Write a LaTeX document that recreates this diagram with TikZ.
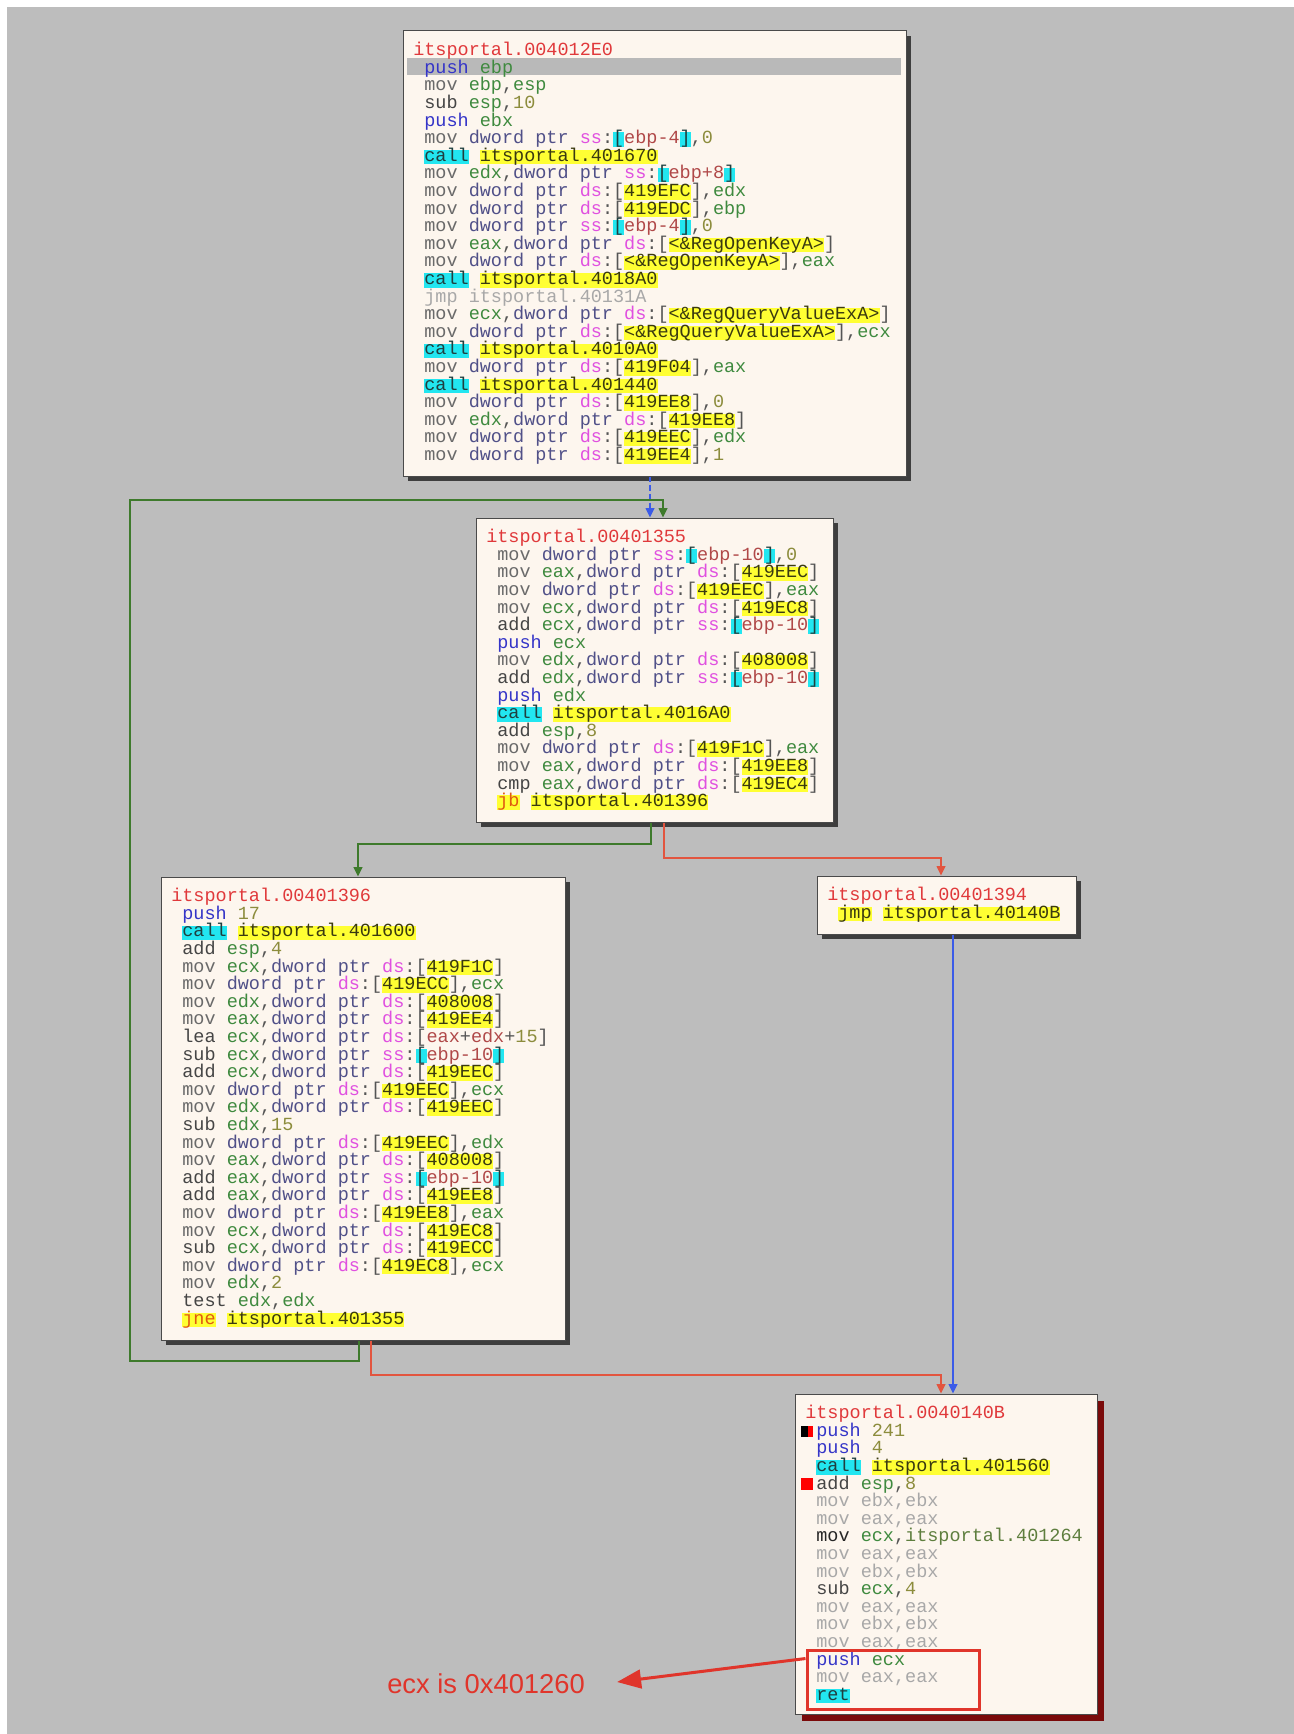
\documentclass[tikz,border=0pt]{standalone}
\usepackage{fontspec}
\usetikzlibrary{arrows.meta,fit,calc,shadows}
\newfontfamily\asmfont{Liberation Mono}
\newfontfamily\lblfont{Liberation Sans}
\setlength\fboxsep{0pt}
\definecolor{bg}{HTML}{BDBDBD}
\definecolor{boxfill}{HTML}{FDF6EE}
\definecolor{boxline}{HTML}{4A4A4A}
\definecolor{shad}{HTML}{3E3E3E}
\definecolor{shadred}{HTML}{7A0A0A}
\definecolor{ctitle}{HTML}{E0393B}
\definecolor{cmov}{HTML}{6A6A6A}
\definecolor{cmk}{HTML}{454545}
\definecolor{cpush}{HTML}{3535C8}
\definecolor{creg}{HTML}{3F8A3F}
\definecolor{cptr}{HTML}{505088}
\definecolor{cseg}{HTML}{E050E0}
\definecolor{cbk}{HTML}{555555}
\definecolor{cnum}{HTML}{8C8C3C}
\definecolor{cmem}{HTML}{B04848}
\definecolor{hy}{HTML}{FFFF33}
\definecolor{hc}{HTML}{22E6F0}
\definecolor{cyt}{HTML}{3A3A10}
\definecolor{cct}{HTML}{1F3F3F}
\definecolor{cjmp}{HTML}{E05A10}
\definecolor{clight}{HTML}{A8A8A8}
\definecolor{cimm}{HTML}{5E7E3E}
\definecolor{cgreen}{HTML}{3E7A2C}
\definecolor{cred}{HTML}{E2553F}
\definecolor{cblue}{HTML}{3B5BE8}
\definecolor{annred}{HTML}{E0352B}
\definecolor{selbar}{HTML}{B9B9B9}
\newcommand\HS{\rule[-2.2pt]{0pt}{10.8pt}}
\newcommand\Ti[1]{\textcolor{ctitle}{#1}}
\newcommand\Mv[1]{\textcolor{cmov}{#1}}
\newcommand\Mk[1]{\textcolor{cmk}{#1}}
\newcommand\Pu[1]{\textcolor{cpush}{#1}}
\newcommand\Rg[1]{\textcolor{creg}{#1}}
\newcommand\Nm[1]{\textcolor{cnum}{#1}}
\newcommand\Lt[1]{\textcolor{clight}{#1}}
\newcommand\Dp{\textcolor{cptr}{dword ptr}}
\newcommand\Yh[1]{\colorbox{hy}{\HS\smash{\textcolor{cyt}{#1}}}}
\newcommand\Cy[1]{\colorbox{hc}{\HS\smash{\textcolor{cct}{#1}}}}
\newcommand\Jy[1]{\colorbox{hy}{\HS\smash{\textcolor{cjmp}{#1}}}}
\newcommand\Cl[1]{\Cy{call} \Yh{#1}}
\newcommand\SSm[1]{\textcolor{cseg}{ss}:\Cy{[}\textcolor{cmem}{#1}\Cy{]}}
\newcommand\DSy[1]{\textcolor{cseg}{ds}:[\Yh{#1}]}
\newcommand\I{\phantom{x}}
\newcommand\FS{\rule{0pt}{12pt}}
\newcommand\codefont{\asmfont\fontsize{13.875pt}{13.2pt}\selectfont\lineskiplimit-100pt\relax}
\tikzset{
  blk/.style={draw=boxline, fill=boxfill, line width=0.75pt, inner sep=0pt,
    drop shadow={shadow xshift=3.75pt, shadow yshift=-3.75pt, fill=shad, opacity=1}},
  blkred/.style={draw=boxline, fill=boxfill, line width=0.75pt, inner sep=0pt,
    drop shadow={shadow xshift=5.5pt, shadow yshift=-5.5pt, fill=shadred, opacity=1}},
  code/.style={inner sep=0pt, anchor=north west, align=left, text=cbk, font=\codefont},
  conn/.style={line width=1.1pt, -{Triangle[length=7pt,width=6.5pt]}},
}
\begin{document}
\begin{tikzpicture}[x=0.75pt,y=-0.75pt]
\useasboundingbox (0,0) rectangle (1294,1734);
\fill[white] (0,0) rectangle (1294,1734);
\fill[bg] (7,7) rectangle (1294,1734);

% blocks
\node[blk, fit={(403,31) (906,476)}] (b1) {};
\node[blk, fit={(476,518) (833,822)}] (b2) {};
\node[blk, fit={(161,877) (565,1340)}] (b3) {};
\node[blk, fit={(817,876) (1076,934)}] (b4) {};
\node[blkred, fit={(795,1394) (1097,1714)}] (b5) {};

% selection bar
\fill[selbar] (407,58.5) rectangle (901,75.5);

\node[code] (t1) at (413,39.5) {\FS\Ti{itsportal.004012E0}\\
\I\Pu{push} \Rg{ebp}\\
\I\Mv{mov} \Rg{ebp},\Rg{esp}\\
\I\Mk{sub} \Rg{esp},\Nm{10}\\
\I\Pu{push} \Rg{ebx}\\
\I\Mv{mov} \Dp{} \SSm{ebp-4},\Nm{0}\\
\I\Cl{itsportal.401670}\\
\I\Mv{mov} \Rg{edx},\Dp{} \SSm{ebp+8}\\
\I\Mv{mov} \Dp{} \DSy{419EFC},\Rg{edx}\\
\I\Mv{mov} \Dp{} \DSy{419EDC},\Rg{ebp}\\
\I\Mv{mov} \Dp{} \SSm{ebp-4},\Nm{0}\\
\I\Mv{mov} \Rg{eax},\Dp{} \DSy{<\&RegOpenKeyA>}\\
\I\Mv{mov} \Dp{} \DSy{<\&RegOpenKeyA>},\Rg{eax}\\
\I\Cl{itsportal.4018A0}\\
\I\Lt{jmp itsportal.40131A}\\
\I\Mv{mov} \Rg{ecx},\Dp{} \DSy{<\&RegQueryValueExA>}\\
\I\Mv{mov} \Dp{} \DSy{<\&RegQueryValueExA>},\Rg{ecx}\\
\I\Cl{itsportal.4010A0}\\
\I\Mv{mov} \Dp{} \DSy{419F04},\Rg{eax}\\
\I\Cl{itsportal.401440}\\
\I\Mv{mov} \Dp{} \DSy{419EE8},\Nm{0}\\
\I\Mv{mov} \Rg{edx},\Dp{} \DSy{419EE8}\\
\I\Mv{mov} \Dp{} \DSy{419EEC},\Rg{edx}\\
\I\Mv{mov} \Dp{} \DSy{419EE4},\Nm{1}};

\node[code] (t2) at (486,526.5) {\FS\Ti{itsportal.00401355}\\
\I\Mv{mov} \Dp{} \SSm{ebp-10},\Nm{0}\\
\I\Mv{mov} \Rg{eax},\Dp{} \DSy{419EEC}\\
\I\Mv{mov} \Dp{} \DSy{419EEC},\Rg{eax}\\
\I\Mv{mov} \Rg{ecx},\Dp{} \DSy{419EC8}\\
\I\Mk{add} \Rg{ecx},\Dp{} \SSm{ebp-10}\\
\I\Pu{push} \Rg{ecx}\\
\I\Mv{mov} \Rg{edx},\Dp{} \DSy{408008}\\
\I\Mk{add} \Rg{edx},\Dp{} \SSm{ebp-10}\\
\I\Pu{push} \Rg{edx}\\
\I\Cl{itsportal.4016A0}\\
\I\Mk{add} \Rg{esp},\Nm{8}\\
\I\Mv{mov} \Dp{} \DSy{419F1C},\Rg{eax}\\
\I\Mv{mov} \Rg{eax},\Dp{} \DSy{419EE8}\\
\I\Mk{cmp} \Rg{eax},\Dp{} \DSy{419EC4}\\
\I\Jy{jb} \Yh{itsportal.401396}};

\node[code] (t3) at (171,885.5) {\FS\Ti{itsportal.00401396}\\
\I\Pu{push} \Nm{17}\\
\I\Cl{itsportal.401600}\\
\I\Mk{add} \Rg{esp},\Nm{4}\\
\I\Mv{mov} \Rg{ecx},\Dp{} \DSy{419F1C}\\
\I\Mv{mov} \Dp{} \DSy{419ECC},\Rg{ecx}\\
\I\Mv{mov} \Rg{edx},\Dp{} \DSy{408008}\\
\I\Mv{mov} \Rg{eax},\Dp{} \DSy{419EE4}\\
\I\Mk{lea} \Rg{ecx},\Dp{} \textcolor{cseg}{ds}:[\textcolor{cmem}{eax}+\textcolor{cmem}{edx}+\Nm{15}]\\
\I\Mk{sub} \Rg{ecx},\Dp{} \SSm{ebp-10}\\
\I\Mk{add} \Rg{ecx},\Dp{} \DSy{419EEC}\\
\I\Mv{mov} \Dp{} \DSy{419EEC},\Rg{ecx}\\
\I\Mv{mov} \Rg{edx},\Dp{} \DSy{419EEC}\\
\I\Mk{sub} \Rg{edx},\Nm{15}\\
\I\Mv{mov} \Dp{} \DSy{419EEC},\Rg{edx}\\
\I\Mv{mov} \Rg{eax},\Dp{} \DSy{408008}\\
\I\Mk{add} \Rg{eax},\Dp{} \SSm{ebp-10}\\
\I\Mk{add} \Rg{eax},\Dp{} \DSy{419EE8}\\
\I\Mv{mov} \Dp{} \DSy{419EE8},\Rg{eax}\\
\I\Mv{mov} \Rg{ecx},\Dp{} \DSy{419EC8}\\
\I\Mk{sub} \Rg{ecx},\Dp{} \DSy{419ECC}\\
\I\Mv{mov} \Dp{} \DSy{419EC8},\Rg{ecx}\\
\I\Mv{mov} \Rg{edx},\Nm{2}\\
\I\Mk{test} \Rg{edx},\Rg{edx}\\
\I\Jy{jne} \Yh{itsportal.401355}};

\node[code] (t4) at (827,884.5) {\FS\Ti{itsportal.00401394}\\
\I\Yh{jmp} \Yh{itsportal.40140B}};

\node[code] (t5) at (805,1402.5) {\FS\Ti{itsportal.0040140B}\\
\I\Pu{push} \Nm{241}\\
\I\Pu{push} \Nm{4}\\
\I\Cl{itsportal.401560}\\
\I\Mk{add} \Rg{esp},\Nm{8}\\
\I\Lt{mov ebx,ebx}\\
\I\Lt{mov eax,eax}\\
\I\textcolor{black!85}{mov} \Rg{ecx},\textcolor{cimm}{itsportal.401264}\\
\I\Lt{mov eax,eax}\\
\I\Lt{mov ebx,ebx}\\
\I\Mk{sub} \Rg{ecx},\Nm{4}\\
\I\Lt{mov eax,eax}\\
\I\Lt{mov ebx,ebx}\\
\I\Lt{mov eax,eax}\\
\I\Pu{push} \Rg{ecx}\\
\I\Lt{mov eax,eax}\\
\I\Cy{ret}};

% breakpoint markers
\fill[black] (801,1426) rectangle (808,1437);
\fill[red] (808,1426) rectangle (813,1437);
\fill[red] (801,1478) rectangle (813,1489.5);

% connector ports
\coordinate (pA) at (650,0);
\coordinate (g1) at (359,1361);
\coordinate (g2) at (130,500);
\coordinate (g3) at (663,500);
\coordinate (e2g) at (651,844);
\coordinate (e3g) at (358,0);
\coordinate (e2r) at (664,858);
\coordinate (e4r) at (941,0);
\coordinate (e3r) at (371,1375);
\coordinate (e4b) at (953,0);

\draw[conn, cblue, dash pattern=on 4pt off 2.5pt] (b1.south -| pA) -- (b2.north -| pA);
\draw[conn, cgreen] (b3.south -| g1) -- (g1) -- (g1 -| g2) -- (g2) -- (g3) -- (b2.north -| g3);
\draw[conn, cgreen] (b2.south -| e2g) -- (e2g) -- (e2g -| e3g) -- (b3.north -| e3g);
\draw[conn, cred] (b2.south -| e2r) -- (e2r) -- (e2r -| e4r) -- (b4.north -| e4r);
\draw[conn, cred] (b3.south -| e3r) -- (e3r) -- (e3r -| e4r) -- (b5.north -| e4r);
\draw[conn, cblue] (b4.south -| e4b) -- (b5.north -| e4b);

% annotation
\node[draw=annred, line width=2.25pt, inner sep=0pt, fit={(807,1650) (979,1709)}] (ann) {};
\node[anchor=west, inner sep=0pt, text=annred, font=\lblfont\fontsize{20.5pt}{24pt}\selectfont] (lbl) at (387,1684) {ecx is 0x401260};
\draw[annred, line width=2.25pt, -{Triangle[length=18pt,width=14pt]}] ($(ann.north west)+(0,10)$) -- ($(lbl.east)+(32,-2)$);
\end{tikzpicture}
\end{document}
